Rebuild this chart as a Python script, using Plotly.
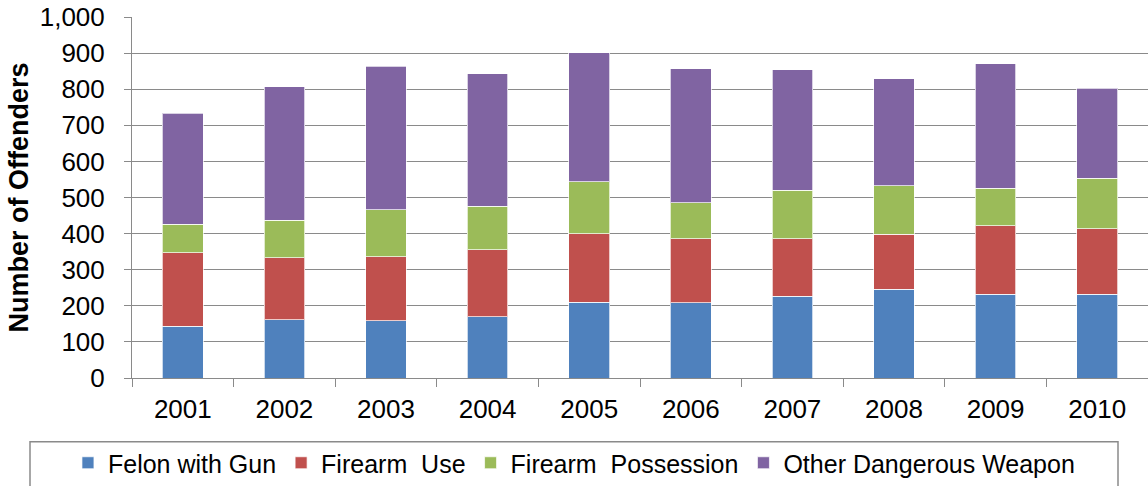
import plotly.graph_objects as go

years = ["2001", "2002", "2003", "2004", "2005", "2006", "2007", "2008", "2009", "2010"]
felon_with_gun = [143, 162, 158, 170, 210, 209, 227, 246, 232, 232]
firearm_use = [204, 171, 178, 185, 189, 177, 159, 152, 190, 181]
firearm_possession = [79, 104, 130, 121, 145, 99, 134, 135, 104, 140]
other_dangerous_weapon = [308, 370, 397, 367, 357, 371, 334, 296, 344, 250]

series_names = ["Felon with Gun", "Firearm\u00a0 Use", "Firearm\u00a0 Possession", "Other Dangerous Weapon"]
series_values = [felon_with_gun, firearm_use, firearm_possession, other_dangerous_weapon]
series_colors = ["#4F81BD", "#C0504D", "#9BBB59", "#8064A2"]

FONT = "Liberation Sans, Arial, sans-serif"
GRID = "#8A8A8A"

fig = go.Figure()
for name, vals, col in zip(series_names, series_values, series_colors):
    fig.add_trace(go.Bar(
        x=years, y=vals, name=name,
        marker=dict(color=col, line=dict(color="rgba(255,255,255,0.7)", width=1)),
    ))

fig.update_layout(
    width=1148, height=486,
    margin=dict(l=132, r=0, t=17, b=106, pad=0),
    barmode="stack", bargap=0.6,
    plot_bgcolor="white", paper_bgcolor="white",
    font=dict(family=FONT, size=26, color="black"),
    showlegend=True,
    legend=dict(
        orientation="h", x=0.435, xanchor="center", y=-0.237, yanchor="middle",
        font=dict(family=FONT, size=25, color="black"),
        bgcolor="rgba(0,0,0,0)", borderwidth=0, itemwidth=30,
        traceorder="normal",
    ),
    xaxis=dict(
        type="category", tickson="boundaries", ticks="outside", ticklen=8,
        tickcolor=GRID, tickwidth=1, showline=True, linecolor=GRID, linewidth=1,
        showgrid=False, tickfont=dict(family=FONT, size=26, color="black"),
        ticklabelstandoff=8,
    ),
    yaxis=dict(
        range=[0, 1000], dtick=100, tickformat=",", ticks="outside", ticklen=7,
        tickcolor=GRID, tickwidth=1, showline=True, linecolor=GRID, linewidth=1,
        showgrid=True, gridcolor=GRID, gridwidth=1, zeroline=False,
        tickfont=dict(family=FONT, size=26, color="black"),
        ticklabelstandoff=14,
        title=dict(text="<b>Number of Offenders</b>", font=dict(family=FONT, size=27, color="black"), standoff=3),
    ),
    shapes=[dict(
        type="rect", xref="paper", yref="paper",
        x0=(30 - 132) / 1016, x1=(1118 - 132) / 1016,
        y0=(379 - 443) / 363, y1=(379 - 520) / 363,
        line=dict(color="#8A8A8A", width=1.5), fillcolor="rgba(0,0,0,0)", layer="below",
    )],
)

fig.write_html("out.html")
